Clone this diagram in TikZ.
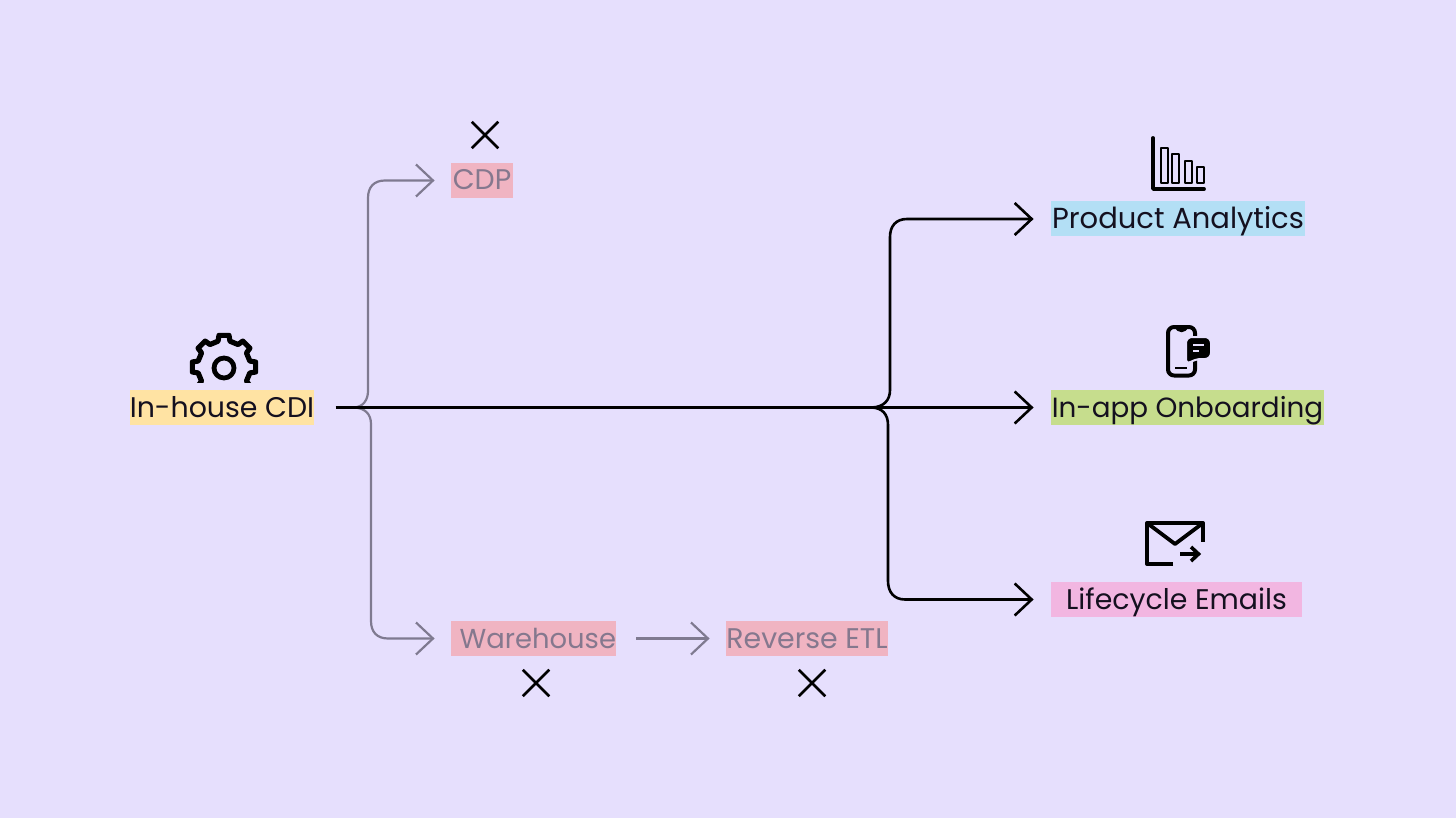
\documentclass[tikz,border=0pt]{standalone}
\usepackage{fontspec}
\setmainfont{Poppins}
\usetikzlibrary{arrows.meta,shapes.misc}
\definecolor{bgcol}{HTML}{E6DFFD}
\definecolor{inkcol}{HTML}{14101F}
\definecolor{fadecol}{HTML}{7F7A90}
\definecolor{fadetext}{HTML}{85788E}
\definecolor{cdicol}{HTML}{FFE3A3}
\definecolor{deadcol}{HTML}{F0B4C2}
\definecolor{prodcol}{HTML}{B3DFF5}
\definecolor{appcol}{HTML}{C6DD8D}
\definecolor{mailcol}{HTML}{F2B6E1}
\newcommand{\tagsize}[1]{\fontsize{#1}{16}\selectfont}
\tikzset{
	tag/.style={inner sep=0pt, text height=13.5pt, text depth=4pt, font=\tagsize{14.2}, text=inkcol},
	deadtag/.style={tag, fill=deadcol, text=fadetext},
	barb/.style={-{Straight Barb[length=8.5pt,width=16pt]}},
	liveline/.style={draw=black, line width=1.3pt, barb},
	deadline/.style={draw=fadecol, line width=1.1pt, barb},
	icon/.style={draw=black, line width=1.6pt, line join=round},
	nope/.style={cross out, draw=black, line width=1.25pt, minimum size=12pt, inner sep=0pt}
}
\begin{document}
\begin{tikzpicture}[x=0.5pt, y=-0.5pt, line cap=butt]
	\useasboundingbox[fill=bgcol] (0,0) rectangle (1456,818);
	% labels
	\node[tag, fill=cdicol, minimum width=92pt] (cdi) at (222,407.5) {In-house CDI};
	\node[deadtag, minimum width=31pt] (cdp) at (482,180.5) {CDP};
	\node[deadtag, text width=82.5pt, align=right, font=\tagsize{13.7}] (warehouse) at (533.5,638.5) {Warehouse};
	\node[deadtag, minimum width=81pt] (retl) at (807,638.5) {Reverse ETL};
	\node[tag, fill=prodcol, minimum width=127pt, font=\tagsize{14.5}] (analytics) at (1178,219) {Product Analytics};
	\node[tag, fill=appcol, minimum width=136.5pt, font=\tagsize{13.9}] (onboarding) at (1187.5,407.5) {In-app Onboarding};
	\node[tag, fill=mailcol, minimum width=125.5pt] (emails) at (1176.5,599.5) {Lifecycle Emails};
	% crosses
	\node[nope] (x1) at (485,135) {};
	\node[nope] (x2) at (536,683) {};
	\node[nope] (x3) at (812,683) {};
	% grey branches
	\coordinate (hubL) at (354,407.5);
	\draw[deadline, shorten >=8pt] (hubL) .. controls (363,407) and (368,400) .. (368,391) -- (368,198) .. controls (368,187) and (374,180.5) .. (385,180.5) -- (cdp.west);
	\draw[deadline, shorten >=8pt] (hubL) .. controls (365,408) and (371,414) .. (371,424) -- (371,621) .. controls (371,632) and (377,638.5) .. (388,638.5) -- (warehouse.west);
	\draw[deadline, shorten <=10pt, shorten >=8pt] (warehouse.east) -- (retl.west);
	% black branches
	\coordinate (hubR) at (872,407.5);
	\draw[liveline, shorten <=10.5pt, shorten >=8.5pt] (cdi.east) -- (onboarding.west);
	\draw[liveline, shorten >=8.5pt] (hubR) .. controls (884,407) and (890,400) .. (890,390) -- (890,237) .. controls (890,226) and (896,219) .. (907,219) -- (analytics.west);
	\draw[liveline, shorten >=8.5pt] (hubR) .. controls (882,408) and (888,414) .. (888,425) -- (888,581) .. controls (888,592) and (894,599.5) .. (905,599.5) -- (emails.west);
	% gear
	\begin{scope}
		\clip (180,325) rectangle (270,382);
		\draw[icon, line width=2.6pt, shift={(224,367)}] (-13:26.5)
			\foreach \a in {0,45,...,315} { -- (\a-13:26.5) -- (\a-9:32) -- (\a+9:32) -- (\a+13:26.5) } -- cycle;
	\end{scope}
	\draw[icon, line width=2.4pt] (224,368) circle (10);
	% chart
	\draw[icon, line width=1.9pt, line cap=round] (1153,138) -- (1153,189) -- (1204,189);
	\foreach \xa/\ya in {1161/148,1172/154,1185/161,1197/167}
		\draw[icon, line width=1.4pt] (\xa,\ya) rectangle (\xa+7,183);
	% phone
	\draw[icon, line width=2pt, rounded corners=3pt] (1168,327) rectangle (1195,375.5);
	\fill[black] (1175,327) .. controls (1177,334) and (1186,334) .. (1188,327) -- cycle;
	\draw[black, line width=1.4pt] (1175,368) -- (1187,368);
	\fill[black, draw=bgcol, line width=1pt, rounded corners=3pt] (1186,337) -- (1211,337) -- (1211,359) -- (1195,359) -- (1186,365) -- cycle;
	\draw[bgcol, line width=1.1pt] (1193,345) -- (1204,345);
	\draw[bgcol, line width=1.1pt] (1193,351) -- (1199,351);
	% envelope
	\draw[icon, line width=2pt] (1173,564) -- (1147,564) -- (1147,523) -- (1203,523) -- (1203,542);
	\draw[icon, line width=1.9pt] (1147,523) -- (1175,544) -- (1203,523);
	\draw[black, line width=1.8pt] (1180,554) -- (1198,554);
	\draw[black, line width=1.8pt] (1191,547) -- (1198.5,554) -- (1191,561);
\end{tikzpicture}
\end{document}
